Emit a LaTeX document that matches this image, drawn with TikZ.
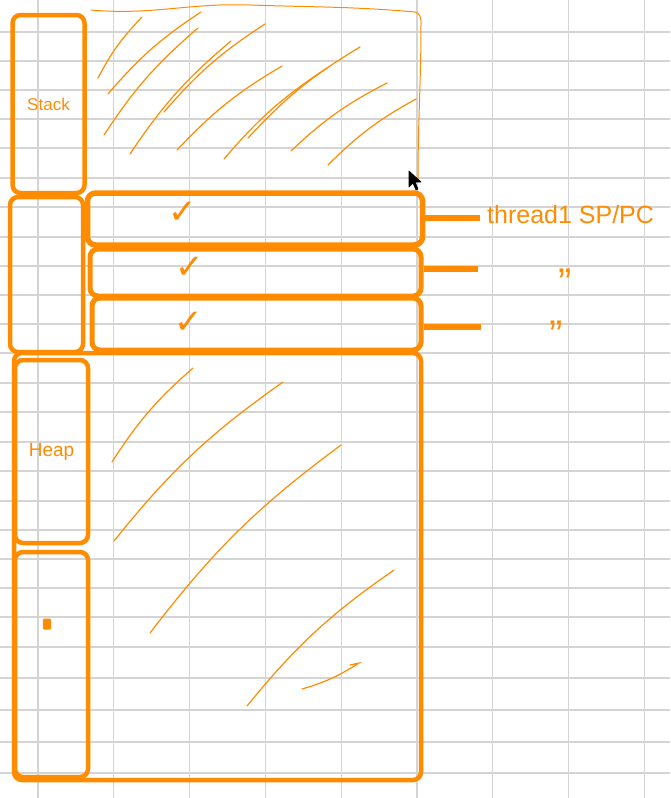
\documentclass[tikz,border=0pt]{standalone}
\usepackage{fontspec}
\setmainfont{Liberation Sans}
\newfontfamily\symfont{DejaVu Sans}
\usetikzlibrary{positioning}
\definecolor{penorange}{RGB}{255,140,0}
\definecolor{gridgray}{RGB}{212,212,212}

\begin{document}
\begin{tikzpicture}[
    x=1pt, y=-1pt,
    seg/.style={draw=penorange, line width=4.5pt, rounded corners=8pt, inner sep=0pt},
    hand/.style={penorange, line width=1.2pt, line cap=round},
    wire/.style={penorange, line width=6pt},
    note/.style={text=penorange, inner sep=0pt},
    tick/.style={text=penorange, inner sep=0pt, font=\symfont\fontsize{34}{36}\selectfont}
]

% sheet and grid
\fill[white] (0,0) rectangle (670,798);
\useasboundingbox (0,0) rectangle (670,798);
\foreach \gx in {38,113.8,189.6,265.4,341.2,417,492.8,568.6,644.4}
    \draw[gridgray, line width=1.2pt] (\gx,0) -- (\gx,798);
\foreach \gy in {32,61,90,119,148,178,207,237,266,295,324,353,383,412,442,471,501,530,559,588,617,647,678,710,742,773}
    \draw[gridgray, line width=1.2pt] (0,\gy) -- (670,\gy);

% left column
\node[seg, minimum width=72pt, minimum height=178pt] (stack) at (48.5,104)
    {\color{penorange}\fontsize{17}{19}\selectfont Stack};
\node[seg, minimum width=73pt, minimum height=155pt] (mid) at (46.5,274.5) {};

% thread slots
\node[seg, line width=5.5pt, minimum width=335pt, minimum height=52pt] (tb1) at (255,219) {};
\node[seg, line width=5pt, minimum width=331pt, minimum height=47pt] (tb2) at (255.5,272.5) {};
\node[seg, line width=5pt, minimum width=329pt, minimum height=52pt] (tb3) at (256.5,324) {};
\node[tick] (ck1) at (183,213) {✓};
\node[tick] (ck2) at (190,268) {✓};
\node[tick] (ck3) at (189,323) {✓};

% heap part
\node[seg, minimum width=407pt, minimum height=427pt] (heap) at (217.5,566.5) {};
\node[seg, minimum width=73pt, minimum height=183pt] (heapcol) at (51.5,451.5)
    {\color{penorange}\fontsize{19}{21}\selectfont Heap};
\node[seg, minimum width=73pt, minimum height=225pt] (lowcol) at (51.5,664.5) {};
\node[fill=penorange, minimum width=8pt, minimum height=11pt, rounded corners=1pt, inner sep=0pt] (dot) at (47,624) {};

% SP/PC pointers
\coordinate (w1) at (480,218);
\coordinate (w2) at (478,269);
\coordinate (w3) at (481,327);
\draw[wire] (tb1.east |- w1) -- (w1);
\draw[wire] (tb2.east |- w2) -- (w2);
\draw[wire] (tb3.east |- w3) -- (w3);
\node[note, anchor=west, font=\fontsize{25}{27}\selectfont] (lab1) at (487,215) {thread1 SP/PC};
\node[note, font=\fontsize{40}{42}\selectfont] (lab2) at (565,283) {”};
\node[note, font=\fontsize{40}{42}\selectfont] (lab3) at (556,335) {”};

% free area above the stack
\draw[hand, line width=1pt] (91,10) to[out=-5,in=178] (250,5) to[out=-2,in=175] (415,12)
    to[out=-10,in=90] (421,22) to[out=-90,in=90] (418,180);
\foreach \xa/\ya/\xb/\yb in {98/78/142/17, 108/94/201/12, 104/135/198/28, 130/154/231/41,
    164/112/265/24, 177/150/282/66, 224/159/327/68, 248/138/360/47, 291/151/387/83, 328/165/416/99}
    \draw[hand] (\xa,\ya) to[bend left=8] (\xb,\yb);

% free area in the heap
\foreach \xa/\ya/\xb/\yb in {112/462/193/368, 114/541/283/382, 150/633/341/445, 247/706/394/570}
    \draw[hand] (\xa,\ya) to[bend left=8] (\xb,\yb);
\draw[hand] (302,689) to[bend right=8] (359,663) -- (350,665);

% mouse pointer
\draw[black, fill=black, line width=0.6pt, line join=round] (409,171) -- (409,187) -- (413,183)
    -- (416,190) -- (418,189) -- (415,182) -- (421,182) -- cycle;

\end{tikzpicture}
\end{document}
